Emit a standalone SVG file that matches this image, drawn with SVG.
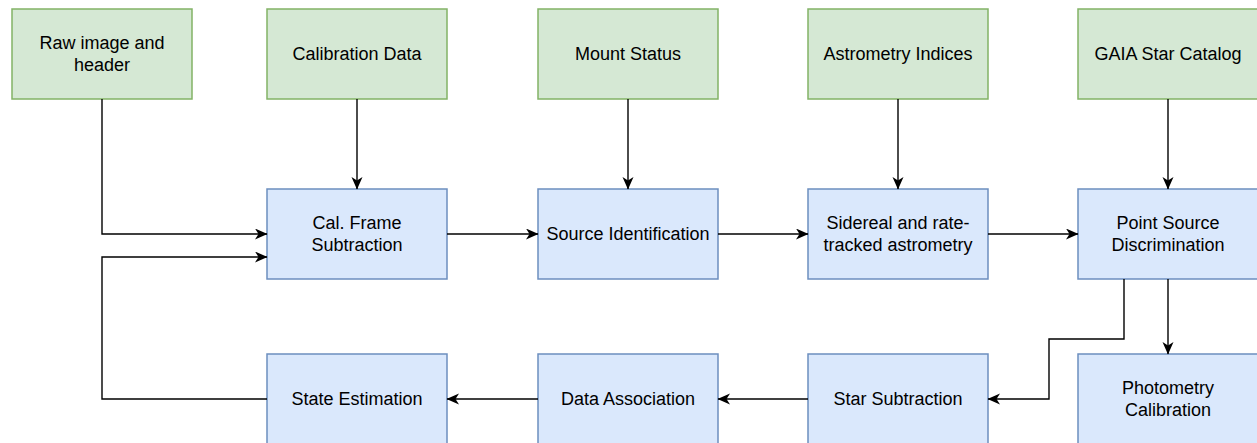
<svg xmlns="http://www.w3.org/2000/svg" width="1257" height="443" viewBox="0 0 1257 443">
  <style>
    .src rect { fill: #d5e8d4; stroke: #82b366; stroke-width: 1.5; }
    .proc rect { fill: #dae8fc; stroke: #6c8ebf; stroke-width: 1.5; }
    text { font-family: "Liberation Sans", Arial, Helvetica, sans-serif; font-size: 18px; fill: #000; text-anchor: middle; }
    .edge { fill: none; stroke: #000; stroke-width: 1.4; marker-end: url(#arrow); }
  </style>
  <defs>
    <marker id="arrow" markerUnits="userSpaceOnUse" markerWidth="14" markerHeight="12" refX="12" refY="5.5" orient="auto">
      <path d="M0,0 L12.5,5.5 L0,11 L3.5,5.5 Z" fill="#000"/>
    </marker>
  </defs>

  <!-- data sources -->
  <g id="raw-image" class="src">
    <rect x="12" y="9" width="180" height="90"/>
    <text x="102" y="49">Raw image and</text>
    <text x="102" y="71">header</text>
  </g>
  <g id="calibration-data" class="src">
    <rect x="267" y="9" width="180" height="90"/>
    <text x="357" y="60">Calibration Data</text>
  </g>
  <g id="mount-status" class="src">
    <rect x="538" y="9" width="180" height="90"/>
    <text x="628" y="60">Mount Status</text>
  </g>
  <g id="astrometry-indices" class="src">
    <rect x="808" y="9" width="180" height="90"/>
    <text x="898" y="60">Astrometry Indices</text>
  </g>
  <g id="gaia-catalog" class="src">
    <rect x="1078" y="9" width="180" height="90"/>
    <text x="1168" y="60">GAIA Star Catalog</text>
  </g>

  <!-- processing steps -->
  <g id="cal-frame-subtraction" class="proc">
    <rect x="267" y="189" width="180" height="90"/>
    <text x="357" y="229">Cal. Frame</text>
    <text x="357" y="251">Subtraction</text>
  </g>
  <g id="source-identification" class="proc">
    <rect x="538" y="189" width="180" height="90"/>
    <text x="628" y="240">Source Identification</text>
  </g>
  <g id="astrometry" class="proc">
    <rect x="808" y="189" width="180" height="90"/>
    <text x="898" y="229">Sidereal and rate-</text>
    <text x="898" y="251">tracked astrometry</text>
  </g>
  <g id="point-source-discrimination" class="proc">
    <rect x="1078" y="189" width="180" height="90"/>
    <text x="1168" y="229">Point Source</text>
    <text x="1168" y="251">Discrimination</text>
  </g>
  <g id="state-estimation" class="proc">
    <rect x="267" y="354" width="180" height="90"/>
    <text x="357" y="405">State Estimation</text>
  </g>
  <g id="data-association" class="proc">
    <rect x="538" y="354" width="180" height="90"/>
    <text x="628" y="405">Data Association</text>
  </g>
  <g id="star-subtraction" class="proc">
    <rect x="808" y="354" width="180" height="90"/>
    <text x="898" y="405">Star Subtraction</text>
  </g>
  <g id="photometry-calibration" class="proc">
    <rect x="1078" y="354" width="180" height="90"/>
    <text x="1168" y="394">Photometry</text>
    <text x="1168" y="416">Calibration</text>
  </g>

  <!-- connectors -->
  <g id="connectors">
    <path class="edge" d="M102,99 V234 H267"/>
    <path class="edge" d="M357,99 V189"/>
    <path class="edge" d="M628,99 V189"/>
    <path class="edge" d="M898,99 V189"/>
    <path class="edge" d="M1168,99 V189"/>
    <path class="edge" d="M447,234 H538"/>
    <path class="edge" d="M718,234 H808"/>
    <path class="edge" d="M988,234 H1078"/>
    <path class="edge" d="M1168,279 V354"/>
    <path class="edge" d="M1124,279 V339 H1049 V399 H988"/>
    <path class="edge" d="M808,399 H718"/>
    <path class="edge" d="M538,399 H447"/>
    <path class="edge" d="M267,399 H102 V257 H267"/>
  </g>
</svg>
